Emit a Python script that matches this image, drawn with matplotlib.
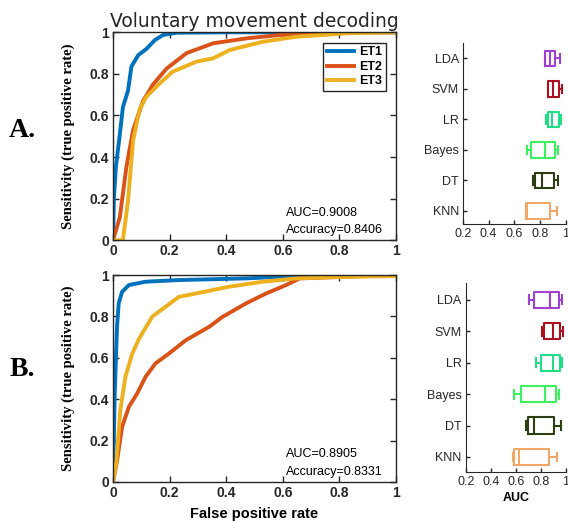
import numpy as np
import matplotlib.pyplot as plt

# ROC curves, panel A
fprA1 = [0, 0.003, 0.01, 0.024, 0.035, 0.053, 0.065, 0.089, 0.118, 0.148, 0.177, 0.224, 0.4, 1]
tprA1 = [0, 0.2, 0.35, 0.51, 0.64, 0.72, 0.835, 0.89, 0.92, 0.963, 0.987, 0.998, 1, 1]
fprA2 = [0, 0.024, 0.047, 0.071, 0.106, 0.142, 0.189, 0.26, 0.354, 0.472, 0.59, 0.767, 1]
tprA2 = [0, 0.11, 0.35, 0.53, 0.67, 0.75, 0.825, 0.9, 0.947, 0.971, 0.987, 0.998, 1]
fprA3 = [0, 0.035, 0.053, 0.071, 0.094, 0.118, 0.165, 0.21, 0.295, 0.354, 0.413, 0.531, 0.65, 0.826, 1]
tprA3 = [0, 0, 0.19, 0.48, 0.63, 0.69, 0.754, 0.81, 0.859, 0.875, 0.915, 0.955, 0.979, 0.995, 1]

# ROC curves, panel B
fprB1 = [0, 0.006, 0.014, 0.02, 0.032, 0.056, 0.115, 0.233, 0.47, 0.648, 1]
tprB1 = [0, 0.427, 0.75, 0.863, 0.919, 0.952, 0.968, 0.976, 0.984, 0.995, 1]
fprB2 = [0, 0.014, 0.032, 0.056, 0.085, 0.115, 0.15, 0.198, 0.257, 0.34, 0.387, 0.47, 0.541, 0.612, 0.66, 0.826, 1]
tprB2 = [0, 0.1, 0.266, 0.363, 0.427, 0.508, 0.573, 0.621, 0.685, 0.75, 0.798, 0.863, 0.911, 0.952, 0.984, 0.992, 1]
fprB3 = [0, 0.012, 0.026, 0.044, 0.068, 0.091, 0.139, 0.186, 0.233, 0.293, 0.411, 0.53, 0.648, 0.826, 1]
tprB3 = [0, 0.1, 0.35, 0.51, 0.62, 0.69, 0.8, 0.847, 0.895, 0.911, 0.944, 0.968, 0.984, 0.992, 0.995]

curve_labels = ['ET1', 'ET2', 'ET3']
curve_colors = ['#0072BD', '#D95319', '#EDB120']

# AUC box plots (bottom to top: KNN, DT, Bayes, LR, SVM, LDA)
classifiers = ['KNN', 'DT', 'Bayes', 'LR', 'SVM', 'LDA']
box_colors = ['#F0A868', '#2F3E12', '#3CF060', '#22DD88', '#AA1122', '#A040D0']
# whislo, q1, med, q3, whishi
boxA_lo = [0.692, 0.745, 0.70, 0.85, 0.86, 0.842]
boxA_q1 = [0.692, 0.758, 0.73, 0.863, 0.863, 0.842]
boxA_med = [0.70, 0.816, 0.842, 0.897, 0.90, 0.88]
boxA_q3 = [0.876, 0.91, 0.916, 0.947, 0.947, 0.913]
boxA_hi = [0.929, 0.942, 0.937, 0.963, 0.968, 0.955]

boxB_lo = [0.575, 0.686, 0.583, 0.764, 0.808, 0.704]
boxB_q1 = [0.588, 0.699, 0.64, 0.80, 0.826, 0.748]
boxB_med = [0.627, 0.748, 0.834, 0.898, 0.898, 0.872]
boxB_q3 = [0.865, 0.906, 0.919, 0.956, 0.958, 0.95]
boxB_hi = [0.93, 0.963, 0.945, 0.97, 0.976, 0.968]

tick_font = dict(family='Liberation Sans', weight='bold', size=10)
small_font = dict(family='Liberation Sans', size=9)

fig = plt.figure(figsize=(5.68, 5.21), dpi=100)


def roc_panel(rect, curves, auc_txt, acc_txt, xlabel=None, legend=False):
    ax = fig.add_axes(rect)
    for (f, t), lab, c in zip(curves, curve_labels, curve_colors):
        ax.plot(f, t, color=c, lw=2.8, label=lab, solid_joinstyle='round')
    ax.set_xlim(0, 1)
    ax.set_ylim(0, 1)
    ax.set_xticks([0, 0.2, 0.4, 0.6, 0.8, 1])
    ax.set_yticks([0, 0.2, 0.4, 0.6, 0.8, 1])
    ax.set_xticklabels(['0', '0.2', '0.4', '0.6', '0.8', '1'], fontdict=tick_font)
    ax.set_yticklabels(['0', '0.2', '0.4', '0.6', '0.8', '1'], fontdict=tick_font)
    ax.tick_params(direction='in', top=True, right=True, length=4, width=1, pad=3, colors='#262626')
    for s in ax.spines.values():
        s.set_linewidth(1.0)
        s.set_color('#262626')
    ax.text(0.61, 0.133, auc_txt, fontsize=9, family='Liberation Sans', va='center',
            transform=ax.transAxes)
    ax.text(0.61, 0.05, acc_txt, fontsize=9, family='Liberation Sans', va='center',
            transform=ax.transAxes)
    ax.set_ylabel('Sensitivity (true positive rate)', family='Liberation Serif', weight='bold',
                  fontsize=10.5, labelpad=10)
    if xlabel:
        ax.set_xlabel(xlabel, family='Liberation Sans', weight='bold', fontsize=10.5, labelpad=5)
    if legend:
        leg = ax.legend(loc='upper right', prop=dict(family='Liberation Sans', weight='bold', size=9),
                        handlelength=2.2, fancybox=False, framealpha=1, edgecolor='#262626',
                        borderpad=0.3, labelspacing=0.2, handletextpad=0.4, borderaxespad=0,
                        bbox_to_anchor=(0.965, 0.95))
        leg.get_frame().set_linewidth(1.0)
    return ax


def box_panel(rect, lo, q1, med, q3, hi, ylim, xlabel=None):
    ax = fig.add_axes(rect)
    stats = []
    for i in range(len(classifiers)):
        stats.append(dict(whislo=lo[i], q1=q1[i], med=med[i], q3=q3[i], whishi=hi[i], fliers=[]))
    pos = np.arange(1, len(classifiers) + 1)
    bp = ax.bxp(stats, positions=pos, vert=False, widths=0.52, showfliers=False)
    for i, c in enumerate(box_colors):
        for key in ['boxes', 'medians']:
            bp[key][i].set_color(c)
            bp[key][i].set_linewidth(1.5)
        for key in ['whiskers', 'caps']:
            for j in (2 * i, 2 * i + 1):
                bp[key][j].set_color(c)
                bp[key][j].set_linewidth(1.5)
        for j in (2 * i, 2 * i + 1):
            bp['caps'][j].set_ydata([pos[i] - 0.14, pos[i] + 0.14])
    ax.set_xlim(0.2, 1.0)
    ax.set_ylim(*ylim)
    ax.set_xticks([0.2, 0.4, 0.6, 0.8, 1.0])
    ax.set_xticklabels(['0.2', '0.4', '0.6', '0.8', '1'], fontdict=small_font)
    ax.set_yticks(pos)
    ax.set_yticklabels(classifiers, fontdict=small_font)
    ax.tick_params(direction='in', length=3, width=1, pad=3, colors='#262626')
    ax.spines['top'].set_visible(False)
    ax.spines['right'].set_visible(False)
    for s in ['left', 'bottom']:
        ax.spines[s].set_color('#262626')
    if xlabel:
        ax.set_xlabel(xlabel, family='Liberation Sans', weight='bold', fontsize=9, labelpad=3)
    return ax


axA = roc_panel([0.199, 0.539, 0.498, 0.399],
                [(fprA1, tprA1), (fprA2, tprA2), (fprA3, tprA3)],
                'AUC=0.9008', 'Accuracy=0.8406', legend=True)
axA.set_title('Voluntary movement decoding', family='DejaVu Sans', fontsize=13.5, pad=4,
              color='#262626')

axB = roc_panel([0.199, 0.075, 0.498, 0.397],
                [(fprB1, tprB1), (fprB2, tprB2), (fprB3, tprB3)],
                'AUC=0.8905', 'Accuracy=0.8331', xlabel='False positive rate')

box_panel([0.815, 0.570, 0.181, 0.347], boxA_lo, boxA_q1, boxA_med, boxA_q3, boxA_hi,
          ylim=(0.57, 6.5))
box_panel([0.820, 0.094, 0.176, 0.363], boxB_lo, boxB_q1, boxB_med, boxB_q3, boxB_hi,
          ylim=(0.52, 6.54), xlabel='AUC')

fig.text(0.04, 0.749, 'A.', family='Liberation Serif', weight='bold', fontsize=20, ha='center', va='center')
fig.text(0.04, 0.29, 'B.', family='Liberation Serif', weight='bold', fontsize=20, ha='center', va='center')

fig.savefig('out.png', dpi=100)
